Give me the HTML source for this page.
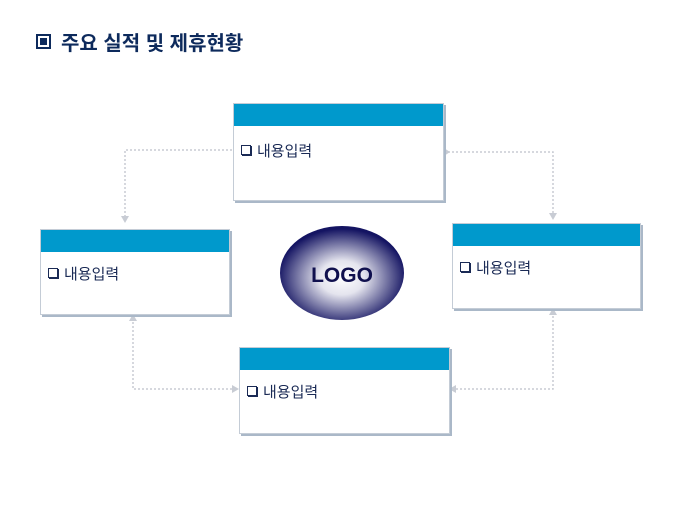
<!DOCTYPE html>
<html><head><meta charset="utf-8"><style>
body{margin:0;width:680px;height:510px;background:#fff;position:relative;overflow:hidden;font-family:"Liberation Sans","Noto Sans CJK KR",sans-serif}
.t{position:absolute;left:36px;top:27px;font-size:20px;font-weight:bold;color:#0d2a5c}
.b{position:absolute;background:#fff;border:1px solid #c4ccd6;box-shadow:2px 2px 0 #aab8c8}
.b .h{height:22px;background:#0099cc}
.b .x{position:absolute;left:7px;top:36px;font-size:15px;color:#1a2a55}
.sq{display:inline-block;width:8px;height:8px;border:1.5px solid #1a2a55;box-shadow:1px 1px 0 #1a2a55;margin-right:6px;vertical-align:1px}
</style></head><body>
<div class="t"><span style="display:inline-block;width:11px;height:11px;border:2px solid #0d2a5c;position:relative;vertical-align:1px;margin-right:10px"><span style="position:absolute;left:2px;top:2px;width:7px;height:7px;background:#0d2a5c"></span></span>주요 실적 및 제휴현황</div>
<svg width="680" height="510" style="position:absolute;left:0;top:0">
<defs><radialGradient id="g" cx="50%" cy="55%" r="52%"><stop offset="0" stop-color="#fff"/><stop offset="0.35" stop-color="#e4e4ee"/><stop offset="1" stop-color="#141462"/></radialGradient></defs>
<g fill="none" stroke="#c8ccd4" stroke-width="1.5" stroke-dasharray="2,2">
<polyline points="232,150 125,150 125,220"/>
<polyline points="444,152 553,152 553,217"/>
<polyline points="133,318 133,389 237,389"/>
<polyline points="553,312 553,389 451,389"/>
</g>
<g fill="#c8ccd4">
<polygon points="121,216 129,216 125,223"/>
<polygon points="549,213 557,213 553,220"/>
<polygon points="129,321 137,321 133,314"/>
<polygon points="549,315 557,315 553,308"/>
<polygon points="232,385 232,393 239,389"/>
<polygon points="456,385 456,393 449,389"/>
<polygon points="444,148 444,156 450,152"/>
</g>
<ellipse cx="342" cy="273" rx="62" ry="47" fill="url(#g)"/>
<text x="342" y="282" text-anchor="middle" font-family="Liberation Sans" font-weight="bold" font-size="21" fill="#10104e">LOGO</text>
</svg>
<div class="b" style="left:233px;top:103px;width:209px;height:96px"><div class="h"></div><div class="x"><span class="sq"></span>내용입력</div></div>
<div class="b" style="left:40px;top:229px;width:188px;height:84px"><div class="h"></div><div class="x" style="top:33px"><span class="sq"></span>내용입력</div></div>
<div class="b" style="left:452px;top:223px;width:187px;height:84px"><div class="h"></div><div class="x" style="top:33px"><span class="sq"></span>내용입력</div></div>
<div class="b" style="left:239px;top:347px;width:209px;height:85px"><div class="h"></div><div class="x" style="top:33px"><span class="sq"></span>내용입력</div></div>
</body></html>
